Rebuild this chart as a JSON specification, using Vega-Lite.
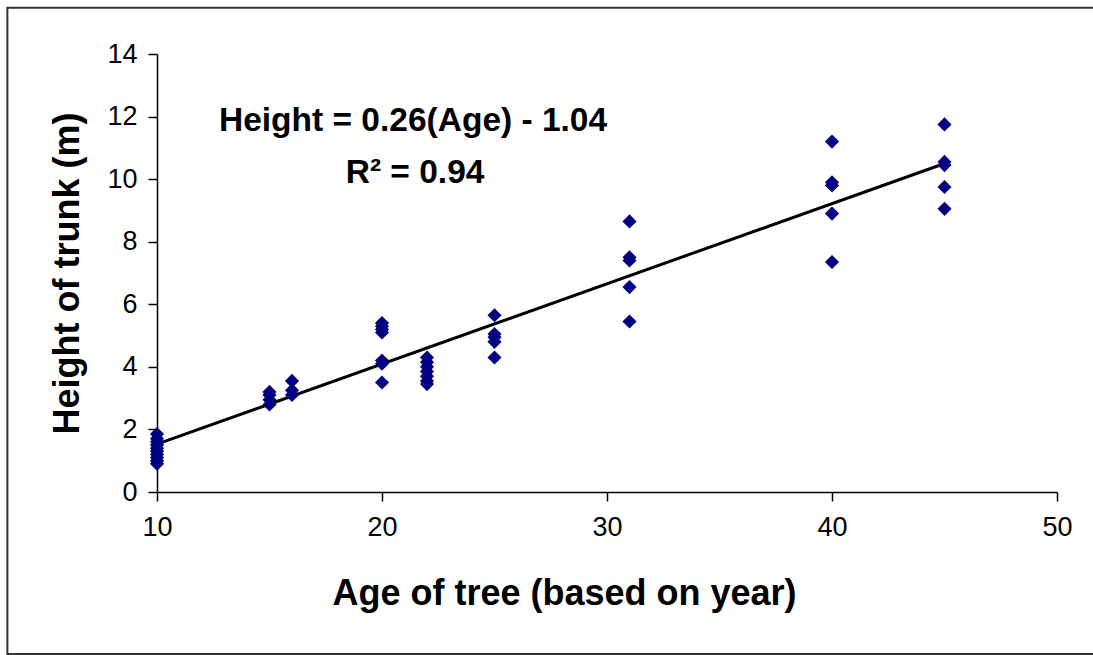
{
  "$schema": "https://vega.github.io/schema/vega-lite/v6.json",
  "width": 900,
  "height": 438,
  "padding": {"left": 6, "top": 6, "right": 0, "bottom": 0},
  "background": "white",
  "config": {
    "view": {"stroke": null},
    "font": "Liberation Sans",
    "axis": {
      "grid": false,
      "labelFont": "Liberation Sans",
      "labelFontSize": 27,
      "labelColor": "#000",
      "labelFlush": false,
      "titleFont": "Liberation Sans",
      "titleFontSize": 36,
      "titleFontWeight": "bold",
      "titleColor": "#000",
      "domainColor": "#000",
      "domainWidth": 1.5,
      "tickColor": "#000",
      "tickWidth": 1.5,
      "tickSize": 9
    }
  },
  "datasets": {
    "points": [
      {"Age": 10, "Height": 0.9}, {"Age": 10, "Height": 1.0}, {"Age": 10, "Height": 1.1}, {"Age": 10, "Height": 1.2},
      {"Age": 10, "Height": 1.3}, {"Age": 10, "Height": 1.4}, {"Age": 10, "Height": 1.5}, {"Age": 10, "Height": 1.6},
      {"Age": 10, "Height": 1.7}, {"Age": 10, "Height": 1.85},
      {"Age": 15, "Height": 2.8}, {"Age": 15, "Height": 2.95}, {"Age": 15, "Height": 3.1}, {"Age": 15, "Height": 3.2},
      {"Age": 16, "Height": 3.1}, {"Age": 16, "Height": 3.25}, {"Age": 16, "Height": 3.55},
      {"Age": 20, "Height": 5.4}, {"Age": 20, "Height": 5.3}, {"Age": 20, "Height": 5.2}, {"Age": 20, "Height": 5.1},
      {"Age": 20, "Height": 4.2}, {"Age": 20, "Height": 4.1}, {"Age": 20, "Height": 3.5},
      {"Age": 22, "Height": 4.3}, {"Age": 22, "Height": 4.15}, {"Age": 22, "Height": 4.0}, {"Age": 22, "Height": 3.85},
      {"Age": 22, "Height": 3.7}, {"Age": 22, "Height": 3.55}, {"Age": 22, "Height": 3.45},
      {"Age": 25, "Height": 5.65}, {"Age": 25, "Height": 5.05}, {"Age": 25, "Height": 4.95}, {"Age": 25, "Height": 4.8},
      {"Age": 25, "Height": 4.3},
      {"Age": 31, "Height": 8.65}, {"Age": 31, "Height": 7.5}, {"Age": 31, "Height": 7.4}, {"Age": 31, "Height": 6.55},
      {"Age": 31, "Height": 5.45},
      {"Age": 40, "Height": 11.2}, {"Age": 40, "Height": 9.9}, {"Age": 40, "Height": 9.8}, {"Age": 40, "Height": 8.9},
      {"Age": 40, "Height": 7.35},
      {"Age": 45, "Height": 11.75}, {"Age": 45, "Height": 10.55}, {"Age": 45, "Height": 10.45}, {"Age": 45, "Height": 9.75},
      {"Age": 45, "Height": 9.05}
    ],
    "fit": [
      {"Age": 10, "Height": 1.53},
      {"Age": 45, "Height": 10.5}
    ],
    "labels": [
      {"Age": 21.38, "Height": 11.86, "label": "Height = 0.26(Age) - 1.04"},
      {"Age": 21.47, "Height": 10.2, "label": "R² = 0.94"}
    ],
    "frame": [
      {"x1": 3.35, "x2": 52.5, "y1": -5.18, "y2": 15.48}
    ]
  },
  "layer": [
    {
      "data": {"name": "frame"},
      "mark": {"type": "rect", "fill": null, "stroke": "#333", "strokeWidth": 2, "clip": false},
      "encoding": {
        "x": {"field": "x1", "type": "quantitative", "scale": {"domain": [10, 50], "nice": false, "zero": false}, "axis": {"title": "Age of tree (based on year)", "values": [10, 20, 30, 40, 50], "labelPadding": 13, "titlePadding": 36, "titleX": 407}},
        "x2": {"field": "x2"},
        "y": {"field": "y1", "type": "quantitative", "scale": {"domain": [0, 14], "nice": false, "zero": false}, "axis": {"title": "Height of trunk (m)", "values": [0, 2, 4, 6, 8, 10, 12, 14], "labelPadding": 11, "titlePadding": 20}},
        "y2": {"field": "y2"}
      }
    },
    {
      "data": {"name": "fit"},
      "mark": {"type": "line", "color": "#000", "strokeWidth": 3},
      "encoding": {
        "x": {"field": "Age", "type": "quantitative"},
        "y": {"field": "Height", "type": "quantitative"}
      }
    },
    {
      "data": {"name": "points"},
      "mark": {"type": "point", "shape": "diamond", "filled": true, "color": "#000080", "size": 200, "opacity": 1},
      "encoding": {
        "x": {"field": "Age", "type": "quantitative"},
        "y": {"field": "Height", "type": "quantitative"}
      }
    },
    {
      "data": {"name": "labels"},
      "mark": {"type": "text", "font": "Liberation Sans", "fontSize": 33.5, "fontWeight": "bold", "color": "#000", "align": "center", "baseline": "middle"},
      "encoding": {
        "x": {"field": "Age", "type": "quantitative"},
        "y": {"field": "Height", "type": "quantitative"},
        "text": {"field": "label"}
      }
    }
  ]
}
